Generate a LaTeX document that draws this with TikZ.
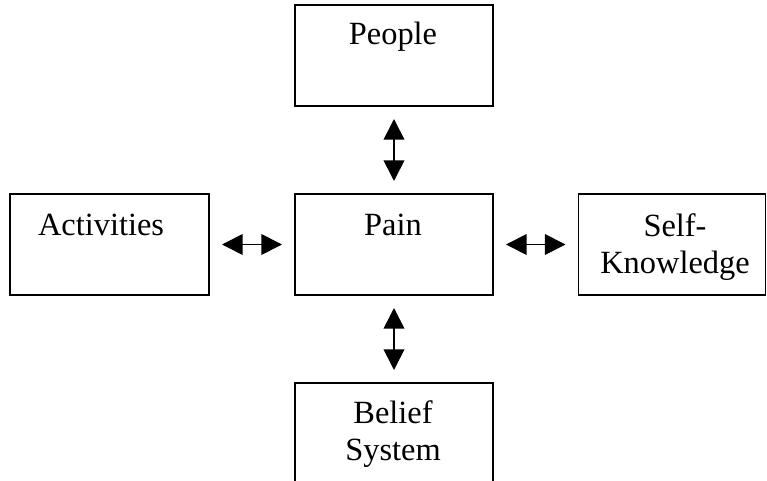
\documentclass[tikz,border=0pt]{standalone}
\usepackage{fontspec}
\setmainfont{Liberation Serif}
\usetikzlibrary{arrows.meta}
\begin{document}
\begin{tikzpicture}[x=0.75pt,y=-0.75pt,
  box/.style={draw, line width=1.3pt, minimum width=#1*0.75pt, minimum height=101*0.75pt, inner sep=0pt, outer sep=0pt},
  lbl/.style={font=\fontsize{24.3}{28}\selectfont, anchor=base, inner sep=0pt},
  link/.style={{Triangle[length=15.5pt,width=15.5pt]}-{Triangle[length=15.5pt,width=15.5pt]}, line width=1.3pt, shorten <=9.75pt, shorten >=9.75pt}]
\useasboundingbox (0,0) rectangle (767,481);
\clip (0,0) rectangle (767,481);
% boxes
\node[box=198] (people) at (394,55.5) {};
\node[box=198] (pain) at (394,244.5) {};
\node[box=199] (act) at (109.5,244.5) {};
\node[box=187] (self) at (672,244.5) {};
\node[box=198] (belief) at (394,433.5) {};
% labels
\node[lbl] (tpeople) at (393,45) {People};
\node[lbl] (tpain) at (393,235) {Pain};
\node[lbl] (tact) at (101,235) {Activities};
\node[lbl] (tself1) at (675,236) {Self-};
\node[lbl] (tself2) at (675,273) {Knowledge};
\node[lbl] (tbel1) at (393,423) {Belief};
\node[lbl] (tbel2) at (393,460) {System};
% connectors
\draw[link] (people.south) -- (pain.north);
\draw[link] (pain.south) -- (belief.north);
\draw[link] (act.east) -- (pain.west);
\draw[link] (pain.east) -- (self.west);
\end{tikzpicture}
\end{document}
